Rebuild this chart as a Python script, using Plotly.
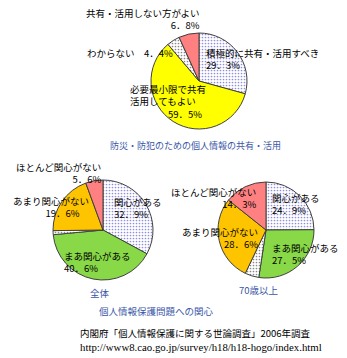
import plotly.graph_objects as go

W, H = 347, 358

# ---- data ----
top_labels = ["積極的に共有・活用すべき", "必要最小限で共有活用してもよい", "わからない", "共有・活用しない方がよい"]
top_values = [29.3, 59.5, 4.4, 6.8]

int_labels = ["関心がある", "まあ関心がある", "わからない", "あまり関心がない", "ほとんど関心がない"]
all_values = [32.9, 40.6, 1.3, 19.6, 5.6]
old_values = [24.9, 27.5, 4.7, 28.6, 14.3]

top_colors = ["#b8c4ee", "#ffff00", "#ffffff", "#ff8080"]
int_colors = ["#b8c4ee", "#88d848", "#ffffff", "#ffc400", "#ff8080"]

FONT = "Noto Sans CJK JP"
BLUE = "#3a56a8"
FW = "\u3000"  # full-width space


def pct(v):
    s = f"{v:.1f}".replace(".", "．")
    return s + "%"


def dom(cx, cy, r):
    return dict(x=[(cx - r) / W, (cx + r) / W], y=[(H - cy - r) / H, (H - cy + r) / H])


def pie(values, labels, colors, cx, cy, r):
    shapes = ["." if c in ("#ffffff", "#b8c4ee") else "" for c in colors]
    fg = ["#888888" if c == "#ffffff" else "#9090d8" for c in colors]
    return go.Pie(
        values=values, labels=labels, sort=False, direction="clockwise", rotation=0,
        textinfo="none", hoverinfo="label+percent", showlegend=False,
        marker=dict(colors=colors, line=dict(color="#404040", width=1),
                    pattern=dict(shape=shapes, fgcolor=fg, size=3, solidity=0.25)),
        domain=dom(cx, cy, r),
    )


fig = go.Figure()
fig.add_trace(pie(top_values, top_labels, top_colors, 199, 81, 48))
fig.add_trace(pie(all_values, int_labels, int_colors, 103, 230, 50))
fig.add_trace(pie(old_values, int_labels, int_colors, 266, 230, 48))

ann = []


def txt(x, y, t, size=9.5, color="#000000", family=FONT, anchor="left", align="left"):
    ann.append(dict(x=x / W, y=(H - y) / H, xref="paper", yref="paper", text=t,
                    showarrow=False, xanchor=anchor, yanchor="middle", align=align,
                    font=dict(family=family, size=size, color=color)))


# top pie labels
txt(202, 19, top_labels[3] + "<br>" + pct(top_values[3]), anchor="right", align="right")
txt(85, 53, top_labels[2] + FW + pct(top_values[2]))
txt(204, 59, top_labels[0] + "<br>" + pct(top_values[0]))
txt(128, 101.5, "必要最小限で共有<br>活用してもよい<br>" + FW * 4 + pct(top_values[1]))
txt(108, 146, "防災・防犯のための個人情報の共有・活用", size=9, color=BLUE)

# 全体
txt(103, 173, int_labels[4] + "<br>" + pct(all_values[4]), anchor="right", align="right")
txt(91, 206.5, int_labels[3] + "<br>" + pct(all_values[3]) + FW, anchor="right", align="right")
txt(112, 208, int_labels[0] + "<br>" + pct(all_values[0]))
txt(62, 262, int_labels[1] + "<br>" + pct(all_values[1]))
txt(88, 293, "全体", color=BLUE)

# 70歳以上
txt(258, 198, int_labels[4] + "<br>" + pct(old_values[4]), anchor="right", align="right")
txt(260, 238.5, int_labels[3] + "<br>" + pct(old_values[3]), anchor="right", align="right")
txt(270, 204, int_labels[0] + "<br>" + pct(old_values[0]))
txt(270, 254, int_labels[1] + "<br>" + pct(old_values[1]))
txt(237, 290, "70歳以上", color=BLUE)

txt(97, 311, "個人情報保護問題への関心", color=BLUE)
txt(78, 333, "内閣府「個人情報保護に関する世論調査」2006年調査", size=9.5)
txt(78, 347, "http://www8.cao.go.jp/survey/h18/h18-hogo/index.html", size=10.8, family="Liberation Serif")

fig.update_layout(width=W, height=H, margin=dict(l=0, r=0, t=0, b=0),
                  paper_bgcolor="white", plot_bgcolor="white", annotations=ann)
fig.write_html("out.html")
